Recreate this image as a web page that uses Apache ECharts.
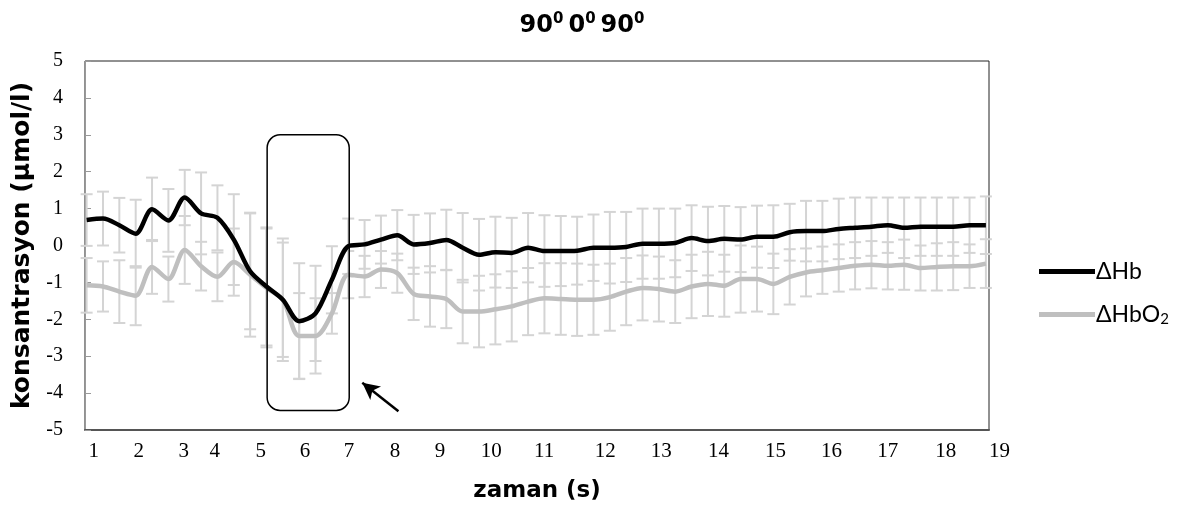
<!DOCTYPE html>
<html>
<head>
<meta charset="utf-8">
<script src="https://cdn.jsdelivr.net/npm/echarts@6/dist/echarts.min.js"></script>
<style>
  html, body { margin: 0; padding: 0; background: #fff; }
  #chart { width: 1186px; height: 514px; }
</style>
</head>
<body>
<div id="chart"></div>
<script>
  // sample index along the x axis (one per error bar)
  const idx = Array.from({ length: 56 }, (_, i) => i)

  const hb = [0.69, 0.73, 0.55, 0.32, 0.98, 0.68, 1.30, 0.87, 0.75, 0.16, -0.70, -1.11, -1.47, -2.05, -1.84, -0.93,
    -0.02, 0.03, 0.16, 0.28, 0.03, 0.07, 0.15, -0.06, -0.25, -0.18, -0.20, -0.06, -0.15, -0.15, -0.14, -0.06,
    -0.06, -0.04, 0.05, 0.05, 0.07, 0.20, 0.12, 0.18, 0.16, 0.24, 0.24, 0.36, 0.39, 0.39, 0.45, 0.48,
    0.51, 0.55, 0.48, 0.51, 0.51, 0.51, 0.55, 0.55]
  const hbSd = [0.70, 0.73, 0.74, 0.92, 0.86, 0.85, 0.75, 1.11, 0.88, 1.23, 1.57, 1.60, 1.66, 1.57, 1.29, 0.91,
    0.75, 0.66, 0.65, 0.68, 0.80, 0.80, 0.82, 0.94, 0.97, 0.96, 0.95, 0.94, 0.97, 0.95, 0.92, 0.90,
    0.97, 0.95, 0.95, 0.95, 0.93, 0.89, 0.93, 0.89, 0.88, 0.84, 0.85, 0.77, 0.82, 0.82, 0.82, 0.82,
    0.79, 0.75, 0.82, 0.79, 0.79, 0.79, 0.75, 0.78]

  const hbo2 = [-1.08, -1.11, -1.25, -1.36, -0.58, -0.91, -0.12, -0.56, -0.85, -0.45, -0.79, -1.15, -1.47, -2.45, -2.45, -1.84,
    -0.79, -0.84, -0.65, -0.75, -1.31, -1.38, -1.45, -1.79, -1.79, -1.73, -1.65, -1.52, -1.43, -1.45, -1.47, -1.47,
    -1.40, -1.25, -1.15, -1.18, -1.25, -1.11, -1.04, -1.09, -0.91, -0.91, -1.04, -0.85, -0.73, -0.67, -0.61, -0.55,
    -0.52, -0.55, -0.52, -0.61, -0.58, -0.56, -0.56, -0.49]
  const hbo2Sd = [0.74, 0.68, 0.85, 0.80, 0.73, 0.61, 0.92, 0.66, 0.66, 0.91, 1.68, 1.61, 1.55, 1.16, 1.02, 0.55,
    0.64, 0.56, 0.50, 0.53, 0.71, 0.82, 0.79, 0.86, 0.97, 0.95, 0.95, 0.91, 0.95, 0.97, 0.98, 0.95,
    0.91, 0.91, 0.88, 0.88, 0.85, 0.86, 0.87, 0.84, 0.91, 0.88, 0.82, 0.75, 0.65, 0.64, 0.64, 0.64,
    0.64, 0.64, 0.68, 0.61, 0.64, 0.65, 0.59, 0.66]

  // x tick labels and where they sit (in sample index units)
  const tickLabels = ['1', '2', '3', '4', '5', '6', '7', '8', '9', '10', '11', '12', '13', '14', '15', '16', '17', '18', '19']
  const tickPos = [0.43, 3.18, 5.94, 7.84, 10.65, 13.35, 16.04, 18.86, 21.61, 24.74, 27.98, 31.72, 35.15, 38.64, 42.13, 45.56, 48.99, 52.54, 55.19]

  // annotation: rounded box and arrow (data units)
  const box = { x0: 11.04, x1: 16.06, y0: 3.0, y1: -4.47 }
  const arrow = { from: [19.07, -4.49], to: [16.86, -3.72] }

  const X_MIN = -0.1
  const X_MAX = 55.19

  const serif = '"Liberation Serif", "DejaVu Serif", serif'
  const bold = '"DejaVu Sans", Verdana, sans-serif'

  let myChart = echarts.init(document.getElementById('chart'))

  function errData(vals, sds) {
    return idx.map(i => [i, vals[i] - sds[i], vals[i] + sds[i]])
  }

  function renderErr(params, api) {
    let lo = api.coord([api.value(0), api.value(1)])
    let hi = api.coord([api.value(0), api.value(2)])
    let half = 6
    let style = { stroke: '#d4d4d4', lineWidth: 2 }
    return {
      type: 'group',
      children: [
        { type: 'line', shape: { x1: lo[0], y1: lo[1], x2: hi[0], y2: hi[1] }, style: style },
        { type: 'line', shape: { x1: lo[0] - half, y1: lo[1], x2: lo[0] + half, y2: lo[1] }, style: style },
        { type: 'line', shape: { x1: hi[0] - half, y1: hi[1], x2: hi[0] + half, y2: hi[1] }, style: style }
      ]
    }
  }

  let option = {
    animation: false,
    title: {
      text: '{b|90}{s|0} {b|0}{s|0} {b|90}{s|0}',
      left: 577,
      top: 7,
      textAlign: 'center',
      textStyle: {
        rich: {
          b: { fontFamily: bold, fontWeight: 'bold', fontSize: 24, color: '#000', lineHeight: 28 },
          s: { fontFamily: bold, fontSize: 15, color: '#000', padding: [0, 0, 13, 0] }
        }
      }
    },
    legend: {
      orient: 'vertical',
      left: 1034,
      top: 255,
      itemWidth: 56,
      itemHeight: 5,
      itemGap: 20,
      icon: 'rect',
      data: ['ΔHb', 'ΔHbO2'],
      formatter: name => name === 'ΔHbO2' ? '{t|ΔHbO}{s|2}' : '{t|' + name + '}',
      textStyle: {
        padding: [0, 0, 0, -4],
        rich: {
          t: { fontFamily: 'Lato, "Noto Sans", sans-serif', fontSize: 23, color: '#000' },
          s: { fontFamily: 'Lato, "Noto Sans", sans-serif', fontSize: 15, color: '#000', padding: [10, 0, 0, 0] }
        }
      }
    },
    grid: {
      left: 85,
      right: 197,
      top: 61,
      bottom: 84,
      show: true,
      borderColor: '#222',
      borderWidth: 1
    },
    xAxis: {
      type: 'value',
      min: X_MIN,
      max: X_MAX,
      name: 'zaman (s)',
      nameLocation: 'middle',
      nameGap: 50,
      nameTextStyle: { fontFamily: bold, fontWeight: 'bold', fontSize: 23, color: '#000' },
      axisLine: { show: true, onZero: false, lineStyle: { color: '#555', width: 2 } },
      axisTick: { show: false },
      splitLine: { show: false },
      axisLabel: {
        customValues: tickPos,
        formatter: v => {
          let k = tickPos.indexOf(v)
          return k >= 0 ? tickLabels[k] : ''
        },
        alignMaxLabel: 'left',
        margin: 11,
        fontFamily: serif,
        fontSize: 21,
        color: '#000'
      }
    },
    yAxis: {
      type: 'value',
      min: -5,
      max: 5,
      interval: 1,
      name: 'konsantrasyon (µmol/l)',
      nameLocation: 'middle',
      nameGap: 50,
      nameTextStyle: { fontFamily: bold, fontWeight: 'bold', fontSize: 25, color: '#000' },
      axisLine: { show: true, onZero: false, lineStyle: { color: '#999', width: 1 } },
      axisTick: { show: true, inside: true, length: 6, lineStyle: { color: '#999' } },
      splitLine: { show: false },
      axisLabel: { margin: 22, fontFamily: serif, fontSize: 20, color: '#000' }
    },
    series: [
      {
        name: 'errHbO2',
        type: 'custom',
        renderItem: renderErr,
        data: errData(hbo2, hbo2Sd),
        z: 1,
        silent: true
      },
      {
        name: 'errHb',
        type: 'custom',
        renderItem: renderErr,
        data: errData(hb, hbSd),
        z: 1,
        silent: true
      },
      {
        name: 'ΔHbO2',
        type: 'line',
        data: idx.map(i => [i, hbo2[i]]),
        smooth: 0.3,
        showSymbol: false,
        color: '#bfbfbf',
        lineStyle: { color: '#bfbfbf', width: 4.5 },
        z: 3
      },
      {
        name: 'ΔHb',
        type: 'line',
        data: idx.map(i => [i, hb[i]]),
        smooth: 0.3,
        showSymbol: false,
        color: '#000',
        lineStyle: { color: '#000', width: 4.5 },
        z: 4,
        markLine: {
          silent: true,
          symbol: ['none', 'arrow'],
          symbolSize: [13, 17],
          label: { show: false },
          lineStyle: { color: '#000', width: 2.5, type: 'solid' },
          data: [[{ coord: arrow.from }, { coord: arrow.to }]]
        }
      }
    ]
  }

  myChart.setOption(option)

  let p0 = myChart.convertToPixel({ gridIndex: 0 }, [box.x0, box.y0])
  let p1 = myChart.convertToPixel({ gridIndex: 0 }, [box.x1, box.y1])
  myChart.setOption({
    graphic: [{
      type: 'rect',
      shape: { x: p0[0], y: p0[1], width: p1[0] - p0[0], height: p1[1] - p0[1], r: 13 },
      style: { fill: 'none', stroke: '#000', lineWidth: 1.5 },
      z: 10
    }]
  })
</script>
</body>
</html>
